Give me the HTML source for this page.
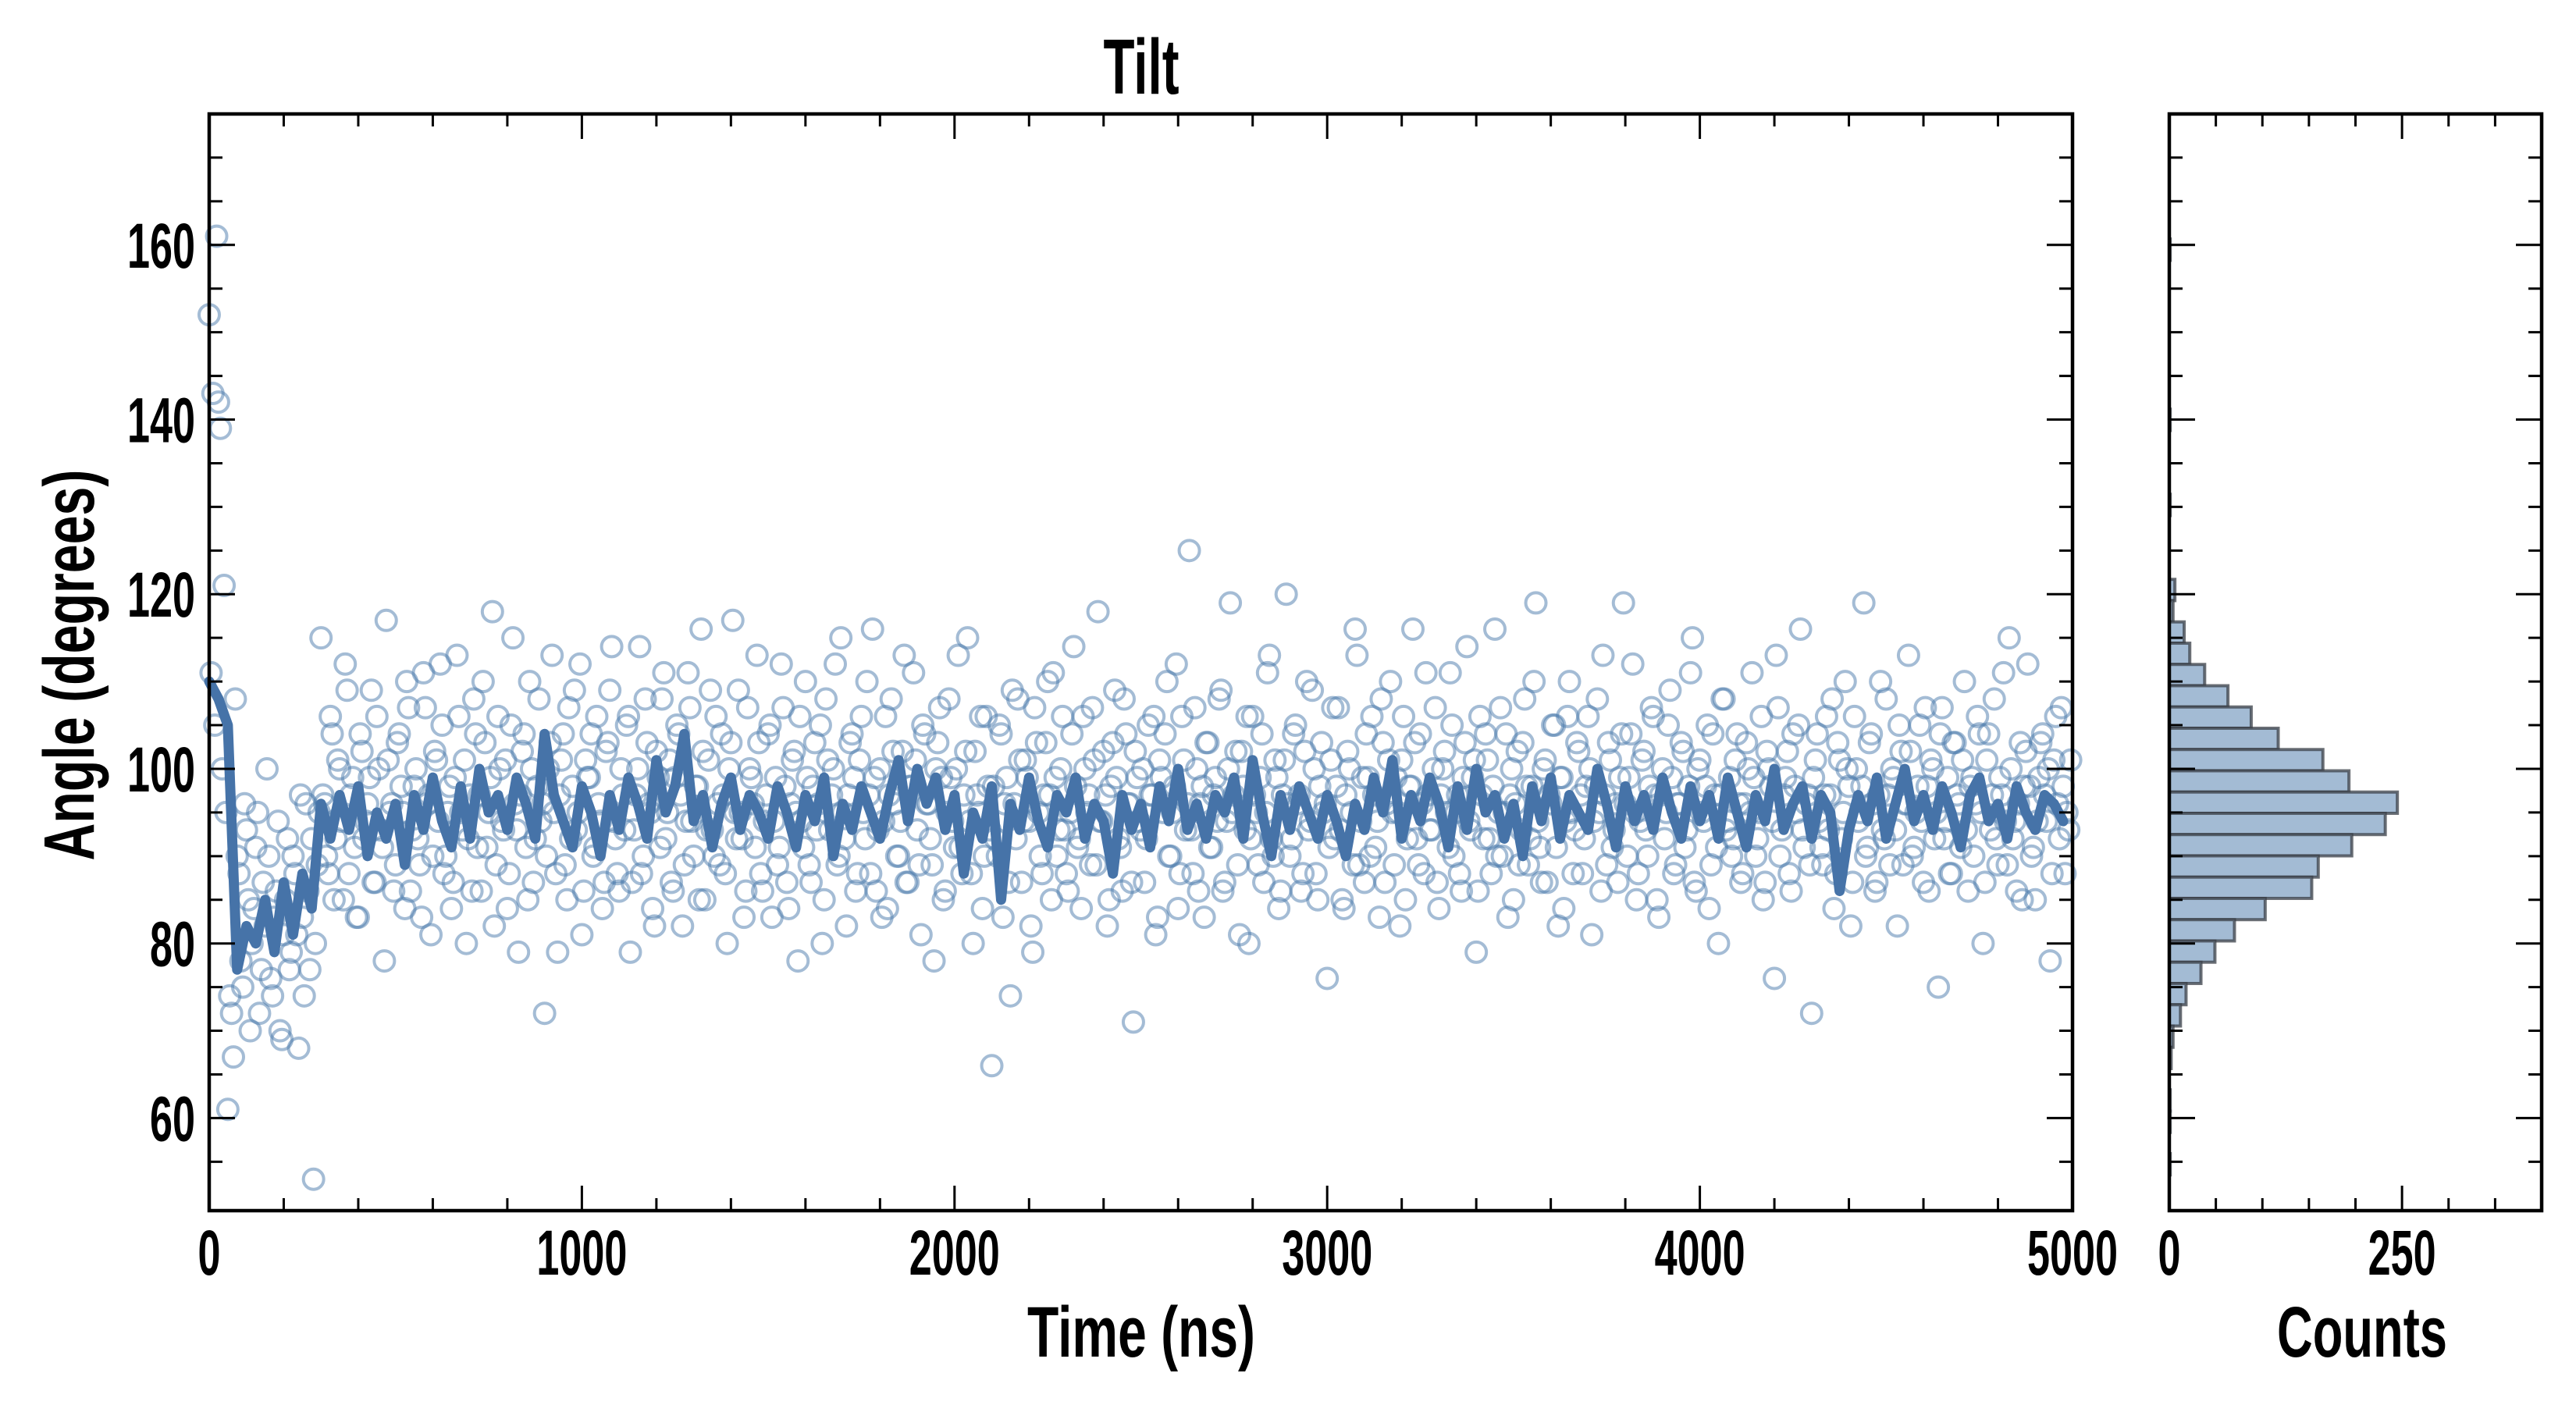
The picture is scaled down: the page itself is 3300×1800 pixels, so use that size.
<!DOCTYPE html>
<html><head><meta charset="utf-8"><style>
html,body{margin:0;padding:0;background:#fff;}
svg{display:block;}
text{font-family:"Liberation Sans Narrow","Liberation Sans",sans-serif;font-weight:bold;fill:#000;}
</style></head><body>
<svg id="chart" width="3300" height="1800" viewBox="0 0 3300 1800" xmlns="http://www.w3.org/2000/svg">
<g id="scatter"></g>
<g id="avgline"></g>
<g id="hist"></g>
<g id="axes"></g>
<text x="1462" y="120" font-size="100" text-anchor="middle" textLength="97" lengthAdjust="spacingAndGlyphs">Tilt</text>
<text x="1462" y="1738" font-size="92" text-anchor="middle" textLength="292" lengthAdjust="spacingAndGlyphs">Time (ns)</text>
<text x="3026" y="1738" font-size="92" text-anchor="middle" textLength="218" lengthAdjust="spacingAndGlyphs">Counts</text>
<text transform="translate(120,852) rotate(-90)" x="0" y="0" font-size="92" text-anchor="middle" textLength="501" lengthAdjust="spacingAndGlyphs">Angle (degrees)</text>
</svg>
<script>
// ---- data ----
const scatterStep = 10; // ns between frames
const scatterAngles = [152,143,161,139,121,61,72,108,
88,75,93,70,84,95,77,82,90,74,86,70,81,92,79,88,68,83,96,77,53,89,
115,96,88,104,92,100,85,109,97,91,83,102,94,99,87,106,93,78,101,96,
89,104,95,110,86,98,92,83,107,97,90,101,112,88,95,84,99,106,93,80,
97,108,91,86,103,95,118,89,100,93,84,105,96,79,102,91,110,87,98,94,
72,100,113,88,97,104,85,92,109,95,81,101,99,90,106,94,87,103,114,92,
86,97,105,79,93,100,88,108,96,84,102,91,111,95,87,99,104,82,94,107,
90,98,116,85,101,93,106,89,97,80,103,95,109,92,86,100,96,113,88,94,
104,83,99,91,107,87,96,102,78,94,110,89,98,93,105,85,101,97,112,90,
95,82,103,99,88,106,92,97,116,86,100,94,84,108,96,90,102,87,98,111,
93,81,104,96,89,100,107,85,95,99,91,113,88,102,94,80,97,106,90,98,
66,92,105,83,99,74,96,108,87,101,94,79,103,90,97,110,85,99,93,106,
88,95,114,91,84,100,97,107,89,94,102,82,98,109,92,86,104,96,71,99,
93,87,105,97,81,101,95,110,90,98,84,106,93,125,88,100,96,83,103,91,
99,108,86,94,119,97,89,102,93,80,106,95,99,87,111,92,101,84,97,120,
90,104,96,86,102,93,109,88,98,95,76,101,92,107,85,97,100,89,113,94,
87,99,106,91,83,103,96,110,89,95,101,85,98,116,92,104,88,97,93,107,
84,100,95,111,90,97,86,103,94,99,79,106,92,101,88,116,95,90,104,97,
85,102,93,108,89,98,119,91,100,87,96,105,82,99,94,110,88,103,97,92,
106,81,98,95,113,89,101,93,87,104,96,99,112,85,94,102,90,107,97,83,
100,95,109,88,96,103,91,98,115,86,101,94,105,89,97,80,108,93,99,92,
104,87,96,100,111,90,95,85,102,98,76,107,93,99,88,104,95,116,91,97,
72,101,94,89,106,97,84,103,92,110,98,87,100,95,119,91,104,86,97,93,
108,89,99,82,102,96,113,90,95,105,87,98,101,92,75,107,94,88,103,97,
91,110,86,99,96,104,80,101,93,108,89,97,94,115,92,86,103,98,112,90,
85,99,104,94,78,101,96,107,88,93];
const scatterAngles2 = [111,105,142,100,95,74,67,90,
78,96,85,80,91,72,87,100,76,83,94,69,85,77,90,81,97,74,86,92,80,95,
97,90,106,85,101,94,112,88,99,83,104,92,96,109,87,100,91,117,95,86,
103,98,84,107,93,100,89,111,96,81,102,94,105,90,98,87,113,95,101,92,
86,104,97,110,91,99,82,106,94,101,88,115,93,97,104,85,100,92,108,96,
90,103,95,79,101,89,107,98,93,112,86,99,104,91,96,84,102,109,94,88,
100,93,106,87,97,114,90,103,95,82,99,108,92,101,86,105,97,89,111,94,
98,85,102,93,109,90,96,104,88,100,117,92,95,83,107,99,91,103,86,97,
105,94,89,112,98,84,101,95,106,91,99,87,103,96,80,108,93,100,89,115,
92,97,104,86,101,95,110,88,99,93,83,106,97,102,90,94,113,87,98,101,
89,105,96,92,78,103,99,86,108,94,100,91,97,115,88,102,95,84,106,93,
98,90,104,96,87,109,92,101,94,99,82,107,95,88,103,97,111,90,100,93,
86,104,98,92,106,95,89,101,118,94,97,85,103,99,91,108,96,87,102,94,
100,92,97,106,83,99,104,90,95,112,88,101,96,93,107,86,98,103,91,97,
94,109,87,100,95,102,81,98,106,92,97,89,104,95,113,90,99,86,101,96,
92,105,97,88,110,94,100,85,103,96,91,107,98,93,84,102,95,116,89,99,
104,90,97,94,108,87,101,95,99,82,106,92,98,103,89,96,111,93,100,87,
97,102,91,105,95,88,99,114,93,101,86,97,104,92,98,90,107,95,83,100,
96,89,103,98,92,110,94,87,101,97,105,91,99,84,106,95,93,102,88,98,
100,94,108,86,97,103,91,96,99,119,90,104,95,88,101,93,98,106,85,97,
92,105,99,89,96,102,93,111,87,100,95,98,84,104,91,97,108,94,90,101,
96,88,103,95,99,92,106,87,100,94,113,90,97,102,86,98,105,93,96,89,
99,104,91,97,93,108,88,101,95,100,82,106,94,98,90,103,96,87,110,92,
97,100,93,105,89,96,102,91,98,94,107,86,100,95,104,92,99,88,103,96,
101,93,98,90,106,95,87,104,97,92,99,111,89,100,94,96,85,102,98,91,
94,103,97,100,88,106,92,98,95,101];
const avgStep = 25; // ns
const avgAngles = [110,108,105,
77,82,80,85,79,87,81,88,84,
96,92,97,93,98,90,95,92,
96,89,97,93,99,94,91,98,92,100,95,97,93,99,96,92,104,97,94,91,
98,95,90,97,93,99,96,92,101,95,98,104,94,97,91,96,99,93,97,95,
92,98,95,91,97,94,99,90,96,93,98,95,92,97,101,94,100,96,99,93,
97,88,95,92,98,85,96,93,99,94,91,97,95,99,92,96,94,88,97,93,
96,91,98,94,100,93,96,92,97,95,99,92,101,95,90,97,93,98,95,92,
97,94,90,96,93,99,95,101,92,97,94,99,96,91,98,93,100,95,97,92,
96,90,98,94,99,92,97,95,93,100,96,91,98,94,97,93,99,95,92,98,
94,97,92,99,95,91,97,94,100,93,96,98,92,97,95,86,93,97,94,99,
92,96,100,94,97,93,98,95,91,97,99,94,96,92,98,95,93,97,96,94];
const histTopEdge = 121.7;   // degrees, upper edge of first bin
const histBinWidth = 2.436;  // degrees
const histCounts = [6,4,16,22,38,63,88,117,165,193,245,232,196,160,153,103,70,49,34,18,12,4,2,0,1,1,0,1];
const histExtraBins = [-16,-8,-4];
const xTicks = [0,1000,2000,3000,4000,5000];
const yTicks = [60,80,100,120,140,160];
const hTicks = [0,250];

// ---- scales ----
const X0=268, X1=2655, Y0=146, Y1=1551, H0=2779, H1=3256;
const xMin=0,xMax=5000,yMin=49.4,yMax=175.0,cMax=400;
const sx=t=>X0+(t-xMin)/(xMax-xMin)*(X1-X0);
const sy=d=>Y0+(yMax-d)/(yMax-yMin)*(Y1-Y0);
const hx=c=>H0+c/cMax*(H1-H0);
const NS='http://www.w3.org/2000/svg';
function mk(tag,attrs,parent){const e=document.createElementNS(NS,tag);for(const k in attrs)e.setAttribute(k,attrs[k]);parent.appendChild(e);return e;}

// scatter
const sg=document.getElementById('scatter');
function drawScatter(arr,off){
  arr.forEach((a,i)=>{
    const c=mk('circle',{cx:sx(i*scatterStep+off),cy:sy(a),r:13,fill:'none',stroke:'#4a7aab','stroke-opacity':0.5,'stroke-width':4},sg);
    
    
  });
}
drawScatter(scatterAngles,0);
drawScatter(scatterAngles2,5);
// line
const lg=document.getElementById('avgline');
const pts=avgAngles.map((a,i)=>sx(i*avgStep)+','+sy(a)).join(' ');
const pl=mk('polyline',{points:pts,fill:'none',stroke:'#4673a8','stroke-width':13,'stroke-linejoin':'round','stroke-linecap':'round'},lg);


// histogram
const hg=document.getElementById('hist');
function bar(k,c){
  const top=histTopEdge-k*histBinWidth, bot=top-histBinWidth;
  const r=mk('rect',{x:H0,y:sy(top),width:Math.max(hx(c)-H0,0.5),height:sy(bot)-sy(top),fill:'#a3bbd4',stroke:'#3a3f47','stroke-opacity':0.75,'stroke-width':4},hg);
  
  
}
histCounts.forEach((c,k)=>{if(c>0)bar(k,c);});
histExtraBins.forEach(k=>bar(k,1));

// axes
const ag=document.getElementById('axes');
function frame(x0,x1,name){
  const r=mk('rect',{x:x0,y:Y0,width:x1-x0,height:Y1-Y0,fill:'none',stroke:'#000','stroke-width':4.5},ag);
  
  
}
frame(X0,X1,'main-axes-frame');frame(H0,H1,'hist-axes-frame');
function line(x1,y1,x2,y2){mk('line',{x1,y1,x2,y2,stroke:'#000','stroke-width':3},ag);}
for(let t=0;t<=5000;t+=200){const x=sx(t);const L=t%1000===0?32:16;line(x,Y1,x,Y1-L);line(x,Y0,x,Y0+L);}
for(let d=55;d<=170;d+=5){const y=sy(d);const L=d%20===0?33:17;
  line(X0,y,X0+L,y);line(X1,y,X1-L,y);line(H0,y,H0+L,y);line(H1,y,H1-L,y);}
for(let c=0;c<=400;c+=50){const x=hx(c);const L=c%250===0?32:16;line(x,Y1,x,Y1-L);line(x,Y0,x,Y0+L);}
function label(x,y,s,anchor,name){
  const tx=mk('text',{x,y,'font-size':82,'text-anchor':anchor,textLength:s.length*29,lengthAdjust:'spacingAndGlyphs'},ag);
  tx.textContent=s;
  
  
}
xTicks.forEach(t=>label(sx(t),1633,String(t),'middle','x-tick-label'));
yTicks.forEach(d=>label(250,sy(d)+29,String(d),'end','y-tick-label'));
hTicks.forEach(c=>label(hx(c),1633,String(c),'middle','hist-x-tick-label'));
</script>
</body></html>
